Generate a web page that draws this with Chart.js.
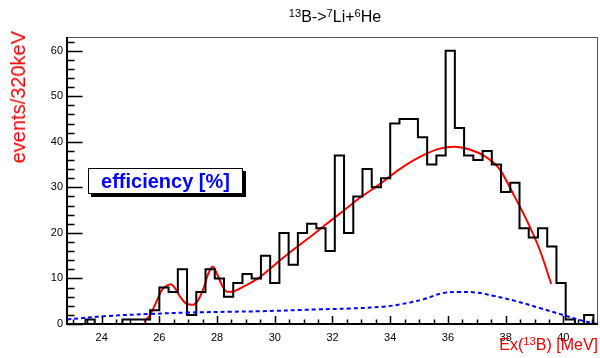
<!DOCTYPE html>
<html>
<head>
<meta charset="utf-8">
<script src="https://cdn.jsdelivr.net/npm/chart.js@4.4.1/dist/chart.umd.min.js"></script>
<style>
  html, body { margin: 0; padding: 0; background: #fff; }
  #wrap { position: relative; width: 600px; height: 358px; font-family: "Liberation Sans", Arial, sans-serif; }
  #c { position: absolute; left: 0; top: 0; }
  .lbl { position: absolute; white-space: nowrap; }
  .lbl sup { font-size: 70%; vertical-align: 0; position: relative; top: -0.45em; }
  #title { left: 335px; top: 8px; transform: translateX(-50%); font-size: 16px; line-height: 18px; color: #000; }
  #ytitle { left: 8px; top: 31px; writing-mode: vertical-rl; transform: rotate(180deg); font-size: 20px; line-height: 20px; color: #e00; }
  #xtitle { right: 2px; top: 336px; font-size: 16px; line-height: 18px; color: #e00; }
  #leg { left: 88px; top: 168px; width: 153px; height: 24px; border: 1px solid #000; background: #fff;
         box-shadow: 3px 3px 0 #000; text-align: center; font-weight: bold; font-size: 20px; line-height: 24px; color: #00f; }
</style>
</head>
<body>
<div id="wrap">
  <canvas id="c" width="600" height="358"></canvas>
  <div class="lbl" id="title"><sup>13</sup>B-&gt;<sup>7</sup>Li+<sup>6</sup>He</div>
  <div class="lbl" id="ytitle">events/320keV</div>
  <div class="lbl" id="xtitle">Ex(<sup>13</sup>B) [MeV]</div>
  <div class="lbl" id="leg">efficiency [%]</div>
</div>
<script>
// histogram: 320 keV bins starting at 22.8 MeV
const binStart = 22.8;
const binWidth = 0.32;
const counts = [0, 0, 1, 0, 0, 0, 1, 1, 1, 3, 8, 7, 12, 2, 7, 12, 10, 6, 9, 11,
                10, 15, 9, 20, 13, 20, 22, 21, 16, 37, 20, 28, 34, 30, 32, 44, 45, 45, 41, 35,
                37, 60, 43, 37, 36, 38, 35, 29, 31, 21, 19, 21, 17, 9, 1, 0, 2, 0];

// fit curve (red)
const fitX = [25.47, 25.68, 25.85, 26.09, 26.26, 26.40, 26.55, 26.72, 26.95, 27.16, 27.35, 27.53, 27.70,
              27.85, 28.01, 28.16, 28.34, 28.51, 28.91, 29.37, 29.72, 30.07, 30.64, 31.22, 31.80, 32.37,
              32.95, 33.64, 34.33, 35.13, 35.72, 36.23, 36.75, 37.33, 37.79, 38.25, 38.72, 39.18, 39.58];
const fitY = [0.5, 2.0, 4.2, 7.5, 8.4, 8.7, 7.8, 6.0, 4.4, 4.2, 5.3, 7.8, 11.1,
              12.6, 10.8, 8.6, 7.1, 7.1, 8.2, 9.8, 11.5, 13.4, 16.3, 19.1, 22.0, 24.8,
              27.7, 30.7, 34.0, 37.0, 38.5, 38.9, 38.3, 36.6, 34.0, 28.7, 22.9, 16.3, 8.8];

// efficiency (blue dashed, scaled)
const effX = [22.8, 24.18, 25.68, 26.95, 28.5, 29.5, 31.45, 32.6, 33.75, 34.33, 35.14, 35.83,
              36.41, 36.99, 37.56, 38.37, 39.18, 39.98, 40.56, 41.08, 41.2];
const effY = [1.0, 1.75, 2.2, 2.5, 2.7, 2.8, 3.2, 3.4, 3.8, 4.3, 5.4, 6.8,
              7.0, 6.9, 6.2, 5.0, 3.5, 2.0, 0.9, 0.1, 0.0];

const xTicks = [24, 26, 28, 30, 32, 34, 36, 38, 40];
const yTicks = [0, 10, 20, 30, 40, 50, 60];
const xMin = 22.8, xMax = 41.2, yMin = 0, yMax = 63;

// step outline: each point is a bin's low edge and content, last point closes the final bin
const histPts = counts.map((v, i) => ({ x: binStart + i * binWidth, y: v }));
histPts.push({ x: binStart + counts.length * binWidth, y: counts[counts.length - 1] });
const fitPts = fitX.map((x, i) => ({ x, y: fitY[i] }));
const effPts = effX.map((x, i) => ({ x, y: effY[i] }));

// ROOT-like frame with inward tick marks
const framePlugin = {
  id: 'frame',
  afterDraw(chart) {
    const { ctx, chartArea: a, scales: { x, y } } = chart;
    ctx.save();
    ctx.strokeStyle = '#555'; ctx.lineWidth = 1;
    ctx.beginPath();
    ctx.moveTo(a.left, a.top + 0.5); ctx.lineTo(a.right, a.top + 0.5);
    ctx.moveTo(a.right - 0.5, a.top); ctx.lineTo(a.right - 0.5, a.bottom);
    ctx.stroke();
    ctx.strokeStyle = '#000'; ctx.lineWidth = 2;
    ctx.beginPath();
    ctx.moveTo(a.left, a.top); ctx.lineTo(a.left, a.bottom);
    ctx.lineTo(a.right, a.bottom);
    ctx.stroke();
    ctx.lineWidth = 1.5;
    ctx.beginPath();
    for (let v = 0; v <= yMax; v += 2) {
      const py = Math.round(y.getPixelForValue(v)) + 0.5;
      const len = v % 10 === 0 ? 15.5 : 7.5;
      ctx.moveTo(a.left, py); ctx.lineTo(a.left + len, py);
    }
    for (let v = 23; v <= xMax; v += 0.5) {
      const px = Math.round(x.getPixelForValue(v)) + 0.5;
      const len = v % 2 === 0 ? 8 : 4.5;
      ctx.moveTo(px, a.bottom); ctx.lineTo(px, a.bottom - len);
    }
    ctx.stroke();
    ctx.restore();
  }
};

new Chart(document.getElementById('c'), {
  type: 'line',
  data: {
    datasets: [
      { label: 'efficiency', data: effPts, borderColor: '#0000ff', borderWidth: 2, borderDash: [4, 3],
        pointRadius: 0, tension: 0.4, fill: false },
      { label: 'events', data: histPts, borderColor: '#000', borderWidth: 2, stepped: 'before',
        pointRadius: 0, fill: false },
      { label: 'fit', data: fitPts, borderColor: '#ff0000', borderWidth: 2, pointRadius: 0,
        cubicInterpolationMode: 'monotone', fill: false }
    ]
  },
  options: {
    responsive: false, animation: false, devicePixelRatio: 1,
    layout: { padding: { top: 37, right: 2, left: 0, bottom: 0 } },
    plugins: { legend: { display: false }, tooltip: { enabled: false }, title: { display: false } },
    scales: {
      x: {
        type: 'linear', min: xMin, max: xMax,
        afterBuildTicks: s => { s.ticks = xTicks.map(v => ({ value: v })); },
        afterFit: s => { s.height = 34; },
        grid: { display: false, drawTicks: false }, border: { display: false },
        ticks: { padding: 7, color: '#000', autoSkip: false, maxRotation: 0,
                 font: { family: 'Liberation Sans', size: 11 } }
      },
      y: {
        type: 'linear', min: yMin, max: yMax,
        afterBuildTicks: s => { s.ticks = yTicks.map(v => ({ value: v })); },
        afterFit: s => { s.width = 67; },
        grid: { display: false, drawTicks: false }, border: { display: false },
        ticks: { padding: 4, color: '#000', font: { family: 'Liberation Sans', size: 11 } }
      }
    }
  },
  plugins: [framePlugin]
});
</script>
</body>
</html>
